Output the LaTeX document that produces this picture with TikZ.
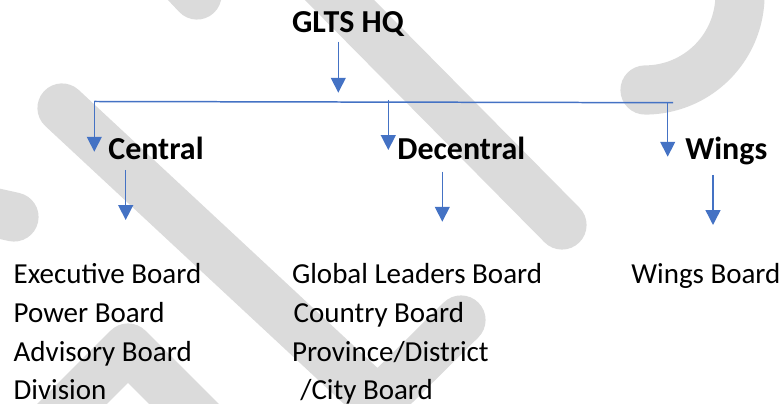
\documentclass[tikz,border=0pt]{standalone}
\usepackage{fontspec}
\setmainfont{Carlito}
\usetikzlibrary{arrows.meta}
\definecolor{linkblue}{RGB}{68,114,196}
\definecolor{markgray}{RGB}{219,219,219}
\begin{document}
\begin{tikzpicture}[x=0.02cm,y=-0.02cm,
  wm/.style={markgray,line width=28pt,line cap=round,line join=round},
  bar/.style={linkblue,line width=0.85pt},
  con/.style={bar,-{Triangle[width=8.5pt,length=8.5pt]}},
  hd/.style={anchor=base west,inner sep=0pt,font=\fontsize{18.2}{21}\selectfont\bfseries},
  lst/.style={anchor=base west,inner sep=0pt,font=\fontsize{16.5}{20}\selectfont}]
\useasboundingbox (0,0) rectangle (784,404);
% watermark in the background
\draw[wm] (150,-55)--(197,-5);
\draw[wm] (300,-40)--(562,225);
\draw[wm] (62,108)--(378,402)--(461,320);
\draw[wm] (28,448)--(128,348)--(228,448);
\draw[wm] (-40,205)--(14,217);
\draw[wm,domain=-40:90,samples=60] plot ({645+95*cos(\x)},{-5+95*sin(\x)});
% titles
\node[hd] (hq) at (291.7,33) {GLTS HQ};
\node[hd] (central) at (108,160) {Central};
\node[hd] (decentral) at (397,159.5) {Decentral};
\node[hd] (wings) at (685,160) {Wings};
% boards
\node[lst] (exec) at (13.3,283.3) {Executive Board};
\node[lst] (power) at (13.3,322.5) {Power Board};
\node[lst] (advisory) at (13.3,361.5) {Advisory Board};
\node[lst] (division) at (13.3,400) {Division};
\node[lst] (global) at (291.7,283.3) {Global Leaders Board};
\node[lst] (country) at (293.3,322.5) {Country Board};
\node[lst] (province) at (291.7,361.5) {Province/District};
\node[lst] (city) at (300,400) {/City Board};
\node[lst] (wingsboard) at (631,283.3) {Wings Board};
% connectors
\coordinate (hq-out) at (338.3,41.7);
\coordinate (bar-in) at (338.3,92.7);
\coordinate (bar-l) at (94.3,101.5);
\coordinate (bar-r) at (673,102.7);
\coordinate (bar-m) at (388.3,100);
\coordinate (bar-w) at (667.7,102.6);
\coordinate (c-in) at (94.3,151.7);
\coordinate (d-in) at (388.3,150);
\coordinate (w-in) at (667.7,156.7);
\coordinate (c-out) at (125.7,170);
\coordinate (c-list) at (125.7,220);
\coordinate (d-out) at (442.3,171.7);
\coordinate (d-list) at (442.3,221.7);
\coordinate (w-out) at (713,175);
\coordinate (w-list) at (713,225);
\draw[con] (hq-out)--(bar-in);
\draw[bar] (bar-l)--(bar-r);
\draw[con] (bar-l)--(c-in);
\draw[con] (bar-m)--(d-in);
\draw[con] (bar-w)--(w-in);
\draw[con] (c-out)--(c-list);
\draw[con] (d-out)--(d-list);
\draw[con] (w-out)--(w-list);
\end{tikzpicture}
\end{document}
